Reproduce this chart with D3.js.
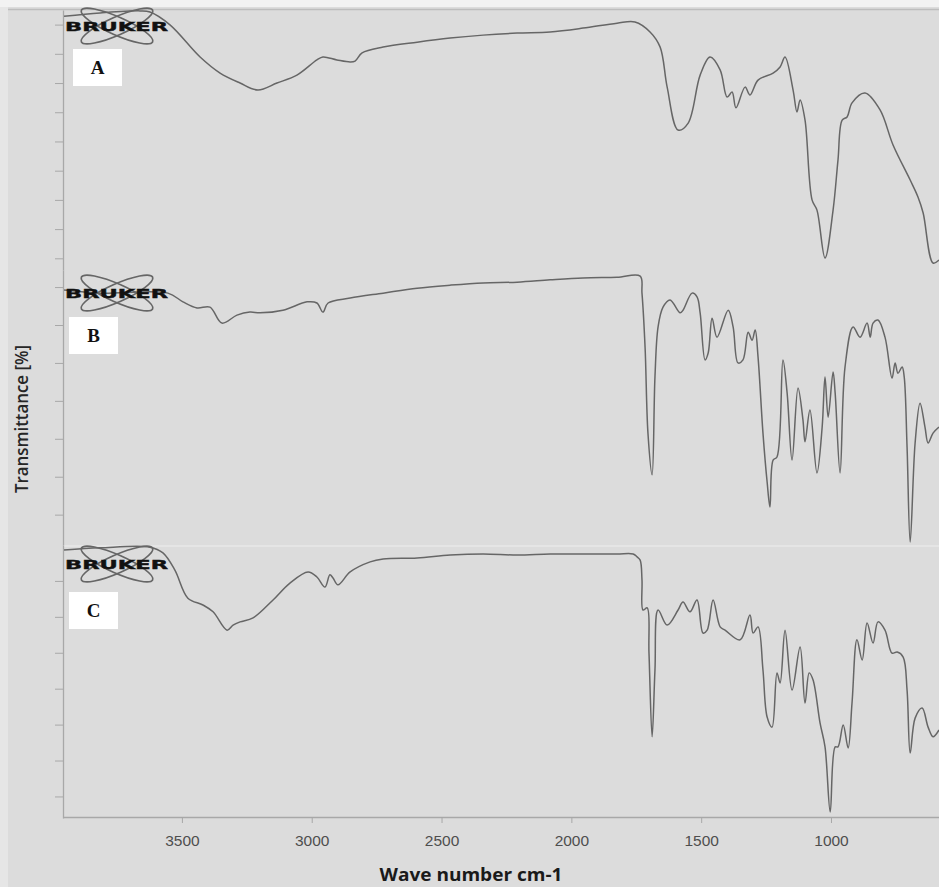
<!DOCTYPE html>
<html>
<head>
<meta charset="utf-8">
<script src="https://cdn.jsdelivr.net/npm/d3@7"></script>
<style>
    html, body { margin: 0; padding: 0; background: #dcdcdc; }
    svg { display: block; }
</style>
</head>
<body>
<svg id="chart" width="939" height="887"></svg>
<script>
// wavenumber (cm-1) and transmittance readings for each spectrum
const waveA = [3954, 3815, 3661, 3623, 3546, 3430, 3353, 3276, 3207, 3134, 3057, 2980, 2957, 2903, 2852, 2833, 2806, 2725, 2594, 2467, 2340, 2209, 2082, 1955, 1824, 1755, 1697, 1658, 1631, 1589, 1550, 1504, 1466, 1427, 1400, 1381, 1366, 1331, 1312, 1281, 1223, 1196, 1177, 1146, 1131, 1119, 1100, 1073, 1054, 1023, 992, 973, 957, 938, 919, 869, 811, 761, 695, 665, 645, 607, 584];
const transA = [92.9, 94.0, 94.7, 94.3, 89.9, 78.9, 73.4, 70.0, 67.6, 70.0, 72.7, 77.9, 78.9, 77.9, 77.2, 77.5, 80.3, 82.3, 84.0, 85.4, 86.4, 87.1, 87.5, 88.8, 90.5, 90.9, 87.5, 82.3, 68.6, 53.9, 56.3, 72.7, 78.9, 74.5, 65.2, 66.9, 61.5, 68.6, 65.9, 71.0, 73.4, 75.5, 78.9, 67.6, 60.1, 64.2, 57.3, 30.0, 26.5, 10.1, 26.5, 43.7, 57.3, 58.4, 63.2, 66.6, 60.8, 48.8, 36.8, 31.0, 25.5, 8.4, 9.4];

const waveB = [3954, 3815, 3554, 3496, 3442, 3392, 3346, 3288, 3238, 3199, 3111, 3018, 2980, 2957, 2937, 2852, 2725, 2594, 2467, 2340, 2209, 2082, 1955, 1824, 1735, 1728, 1716, 1705, 1689, 1678, 1666, 1647, 1620, 1581, 1570, 1535, 1516, 1504, 1485, 1473, 1458, 1439, 1396, 1377, 1358, 1339, 1319, 1304, 1292, 1281, 1262, 1246, 1235, 1223, 1208, 1185, 1169, 1150, 1127, 1108, 1100, 1081, 1054, 1034, 1023, 1011, 992, 984, 965, 946, 915, 888, 861, 849, 838, 819, 792, 765, 753, 742, 726, 718, 707, 695, 676, 657, 638, 626, 607, 584];
const transB = [69.2, 68.4, 68.4, 66.1, 64.5, 64.7, 60.5, 62.6, 63.4, 63.2, 63.9, 66.1, 65.8, 63.4, 65.8, 67.1, 68.4, 69.7, 70.5, 71.1, 71.3, 71.9, 72.4, 72.6, 72.9, 68.4, 54.0, 31.5, 20.5, 46.3, 59.5, 64.7, 66.6, 63.2, 63.9, 68.4, 67.4, 63.2, 50.8, 52.6, 61.8, 56.8, 63.9, 59.5, 50.0, 50.8, 58.1, 56.0, 58.7, 51.6, 31.5, 18.6, 12.0, 24.4, 25.2, 50.8, 42.1, 24.4, 43.4, 35.0, 29.2, 37.6, 21.0, 33.1, 46.3, 35.7, 47.6, 42.1, 21.0, 48.9, 59.5, 56.8, 60.5, 56.8, 60.5, 61.3, 56.8, 46.0, 50.0, 47.3, 48.9, 46.3, 27.8, 2.8, 28.9, 39.4, 33.1, 28.9, 31.5, 33.1];

const waveC = [3954, 3815, 3623, 3573, 3527, 3477, 3419, 3380, 3326, 3303, 3276, 3226, 3149, 3084, 3014, 2980, 2949, 2930, 2918, 2899, 2852, 2775, 2725, 2594, 2467, 2340, 2209, 2082, 1955, 1824, 1762, 1747, 1735, 1728, 1724, 1708, 1701, 1689, 1678, 1666, 1631, 1589, 1570, 1543, 1516, 1493, 1477, 1454, 1427, 1408, 1350, 1312, 1300, 1281, 1262, 1246, 1227, 1208, 1196, 1177, 1150, 1119, 1100, 1084, 1069, 1042, 1023, 1003, 984, 973, 953, 934, 919, 900, 880, 861, 838, 819, 792, 765, 745, 722, 707, 695, 676, 649, 626, 607, 584];
const transC = [78.6, 79.2, 79.4, 77.8, 73.0, 65.2, 63.3, 61.4, 56.3, 57.7, 58.6, 59.7, 64.7, 69.4, 72.5, 71.1, 68.3, 71.7, 70.8, 68.9, 72.5, 75.3, 76.1, 76.4, 77.2, 77.5, 77.2, 77.5, 77.5, 77.5, 77.5, 76.7, 75.8, 70.3, 61.9, 62.5, 49.9, 26.6, 45.2, 61.9, 57.7, 61.9, 64.1, 61.4, 64.7, 55.5, 56.3, 64.7, 57.2, 56.3, 53.6, 60.5, 55.5, 57.2, 45.2, 32.1, 29.3, 44.4, 41.6, 56.3, 39.6, 51.6, 36.0, 44.4, 42.4, 30.4, 23.8, 5.7, 23.8, 23.8, 29.9, 23.5, 36.0, 53.6, 48.0, 58.3, 52.7, 58.6, 56.3, 49.9, 50.2, 48.8, 39.6, 22.1, 31.8, 34.6, 29.3, 26.6, 28.5];

const panelNames = ['A', 'B', 'C'];
const xTicks = [3500, 3000, 2500, 2000, 1500, 1000];
const yTicksA = [10, 20, 30, 40, 50, 60, 70, 80, 90];
const yTicksB = [10, 20, 30, 40, 50, 60, 70];
const yTicksC = [10, 20, 30, 40, 50, 60, 70];

const svg = d3.select('#chart');
const W = 939, H = 887;
const left = 63, right = 939, bottom = 817;

// backdrop
svg.append('rect').attr('width', W).attr('height', H).attr('fill', '#dcdcdc');
svg.append('rect').attr('width', W).attr('height', 7).attr('fill', '#f2f2f2');
svg.append('rect').attr('y', 7).attr('width', 8).attr('height', H - 7).attr('fill', '#e6e6e6');
svg.append('line')
    .attr('x1', 8).attr('x2', right).attr('y1', 9.5).attr('y2', 9.5)
    .attr('stroke', '#bdbdbd').attr('stroke-width', 1.5);

const x = d3.scaleLinear().domain([3958, 584]).range([left, right]);

const panels = [
    { name: panelNames[0], wave: waveA, trans: transA, ticks: yTicksA, domain: [6, 95], range: [270, 10], box: [73, 49], logoY: 26 },
    { name: panelNames[1], wave: waveB, trans: transB, ticks: yTicksB, domain: [2, 74.5], range: [545, 270], box: [69, 317], logoY: 293 },
    { name: panelNames[2], wave: waveC, trans: transC, ticks: yTicksC, domain: [4, 80], range: [818, 545], box: [69, 592], logoY: 564 }
];

// faint seam between the stacked screenshots
svg.append('line')
    .attr('x1', left).attr('x2', right).attr('y1', 546).attr('y2', 546)
    .attr('stroke', '#e8e8e8').attr('stroke-width', 1.5);

function drawLogo(g, cy) {
    const cx = 117;
    [-24, 24].forEach(a => {
        g.append('ellipse')
            .attr('cx', cx).attr('cy', cy)
            .attr('rx', 39).attr('ry', 9)
            .attr('transform', `rotate(${a}, ${cx}, ${cy})`)
            .attr('fill', 'none')
            .attr('stroke', '#666')
            .attr('stroke-width', 1.7);
    });
    g.append('text')
        .attr('x', 65).attr('y', cy + 5)
        .attr('textLength', 103)
        .attr('lengthAdjust', 'spacingAndGlyphs')
        .style('font-family', 'DejaVu Sans')
        .style('font-weight', 'bold')
        .style('font-size', '12.5px')
        .attr('fill', '#111')
        .attr('stroke', '#111')
        .attr('stroke-width', 0.4)
        .text('BRUKER');
}

panels.forEach(p => {
    const y = d3.scaleLinear().domain(p.domain).range(p.range);
    const g = svg.append('g');

    g.append('g')
        .attr('transform', `translate(${left},0)`)
        .call(d3.axisLeft(y).tickValues(p.ticks).tickFormat('').tickSize(8).tickSizeOuter(0))
        .call(s => s.selectAll('line').attr('stroke', '#a8a8a8'))
        .call(s => s.select('.domain').attr('stroke', '#a8a8a8').attr('stroke-width', 1.3));

    const line = d3.line()
        .x((d, i) => x(p.wave[i]))
        .y((d, i) => y(p.trans[i]))
        .curve(d3.curveCatmullRom.alpha(0.5));

    g.append('path')
        .datum(p.wave)
        .attr('d', line)
        .attr('fill', 'none')
        .attr('stroke', '#666')
        .attr('stroke-width', 1.5)
        .attr('stroke-linejoin', 'round');

    drawLogo(g, p.logoY);

    g.append('rect')
        .attr('x', p.box[0]).attr('y', p.box[1])
        .attr('width', 49).attr('height', 37)
        .attr('fill', '#ffffff');
    g.append('text')
        .attr('x', p.box[0] + 24.5).attr('y', p.box[1] + 25)
        .attr('text-anchor', 'middle')
        .style('font-family', 'Liberation Serif')
        .style('font-weight', 'bold')
        .style('font-size', '19px')
        .attr('fill', '#111')
        .text(p.name);
});

// x axis
const xAxis = svg.append('g')
    .attr('transform', `translate(0,${bottom})`)
    .call(d3.axisBottom(x).tickValues(xTicks).tickFormat(d3.format('d')).tickSize(6).tickPadding(12).tickSizeOuter(0));
xAxis.select('.domain').attr('stroke', '#a8a8a8').attr('stroke-width', 1.5);
xAxis.selectAll('line').attr('stroke', '#a8a8a8');
xAxis.selectAll('text')
    .style('font-family', 'Liberation Sans')
    .style('font-size', '15.5px')
    .attr('fill', '#4e4e4e');

svg.append('text')
    .attr('x', 471).attr('y', 881)
    .attr('text-anchor', 'middle')
    .attr('textLength', 183)
    .attr('lengthAdjust', 'spacingAndGlyphs')
    .style('font-family', 'Open Sans')
    .style('font-weight', 'bold')
    .style('font-size', '18px')
    .attr('fill', '#1a1a1a')
    .text('Wave number cm-1');

svg.append('text')
    .attr('transform', 'translate(28,419) rotate(-90)')
    .attr('text-anchor', 'middle')
    .attr('textLength', 148)
    .attr('lengthAdjust', 'spacingAndGlyphs')
    .style('font-family', 'Open Sans')
    .style('font-weight', '600')
    .style('font-size', '17.5px')
    .attr('fill', '#262626')
    .text('Transmittance [%]');
</script>
</body>
</html>
